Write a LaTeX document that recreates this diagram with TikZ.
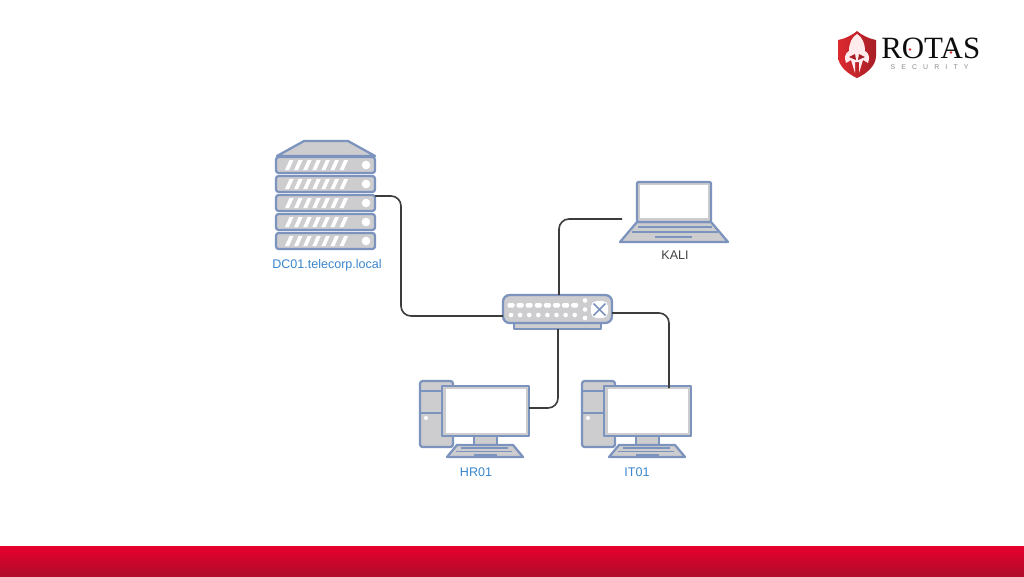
\documentclass[tikz,border=0pt]{standalone}
\usepackage{fontspec}
\setmainfont{Liberation Sans}
\newfontfamily\logofont{Liberation Serif}
\definecolor{devblue}{HTML}{7C93BE}
\definecolor{devgray}{HTML}{CDCDCF}
\definecolor{labelblue}{HTML}{3A86CC}
\definecolor{wire}{HTML}{3C3C3C}
\definecolor{barhi}{HTML}{E8002D}
\definecolor{barlo}{HTML}{B00C2C}
\definecolor{logored}{HTML}{DC2A30}
\definecolor{logodark}{HTML}{A81E26}
\tikzset{
  dev/.style={draw=devblue,fill=devgray,line width=1.7pt,line join=round},
  devline/.style={draw=devblue,line width=1.7pt},
  whitepart/.style={fill=white,draw=none},
  wirepath/.style={draw=wire,line width=1.2pt,rounded corners=7.5pt},
  devlabel/.style={text=labelblue,font=\fontsize{9.4pt}{11pt}\selectfont,inner sep=0pt},
  darklabel/.style={text=black!75,font=\fontsize{9.4pt}{11pt}\selectfont,inner sep=0pt},
}
\newcommand{\rackunit}[1]{%
  \draw[dev,rounded corners=2pt] (276,#1) rectangle (375,#1+16);
  \foreach \k in {0,...,6}{
    \fill[white] (285+\k*9.1,#1+13) -- (289+\k*9.1,#1+13) -- (293.5+\k*9.1,#1+3) -- (289.5+\k*9.1,#1+3) -- cycle;
  }
  \fill[white] (366,#1+8) circle (4.3);
}
\newcommand{\pcunit}[1]{%
  \begin{scope}[xshift=#1*0.75pt]
    \draw[dev,rounded corners=2pt] (420,381) rectangle (453,447);
    \draw[devline] (420,391) -- (442,391);
    \draw[devline] (420,413) -- (442,413);
    \fill[white] (426,418) circle (2);
    \draw[dev] (474,436) rectangle (497,445);
    \draw[dev] (457,445) -- (513,445) -- (523,457) -- (447,457) -- cycle;
    \draw[devline,line width=1.2pt] (461,448) -- (508,448);
    \draw[devline,line width=1.2pt] (456,451.5) -- (512,451.5);
    \draw[devline,line width=1.2pt] (474,455) -- (497,455);
    \draw[dev] (442,386) rectangle (529,436);
    \fill[white] (445.5,389) rectangle (526,433);
  \end{scope}
}
\begin{document}
\begin{tikzpicture}[x=0.75pt,y=-0.75pt]
\useasboundingbox (0,0) rectangle (1024,576);
\fill[white] (0,0) rectangle (1024,576);
% footer bar
\shade[top color=barhi,bottom color=barlo,draw=none] (0,546) rectangle (1024,576);

% server
\draw[dev] (277,156) -- (304,141) -- (348,141) -- (375,156) -- cycle;
\rackunit{157}\rackunit{176}\rackunit{195}\rackunit{214}\rackunit{233}
\node[devlabel] (dclabel) at (327,265.5) {DC01.telecorp.local};
\coordinate (dcport) at (375,196);
\coordinate (dcbend) at (401,196);

% laptop
\draw[dev] (637,222) -- (711,222) -- (728,242) -- (620,242) -- cycle;
\draw[devline,line width=1.4pt] (638,227) -- (712,227);
\draw[devline,line width=1.4pt] (632,232) -- (718,232);
\draw[devline,line width=1.4pt] (655,237) -- (692,237);
\draw[dev,rounded corners=1pt] (637,182) rectangle (711,222);
\fill[white] (640,185) rectangle (708,218);
\node[darklabel] (kalilabel) at (675,255) {KALI};
\coordinate (kaliport) at (622,219);
\coordinate (kalibend) at (559,219);

% switch
\draw[dev] (514,323) rectangle (601,329);
\draw[dev,rounded corners=5pt] (503,295) rectangle (612,323);
\foreach \k in {0,...,7}{
  \fill[white,rounded corners=1pt] (507.5+\k*9.1,303) rectangle (514.5+\k*9.1,307.5);
  \fill[white] (511+\k*9.1,315) circle (2.3);
}
\foreach \y in {300.5,309.5,318}{\fill[white] (585,\y) circle (2.3);}
\fill[white,rounded corners=4pt] (591,301) rectangle (608,318);
\draw[devline,line width=1.2pt] (593.5,303.5) -- (605.5,315.5) (605.5,303.5) -- (593.5,315.5);
\node[inner sep=0pt,minimum width=109*0.75pt,minimum height=28*0.75pt] (switch) at (557.5,309) {};
\coordinate (swleft) at (503,316);
\coordinate (swtop) at (559,295);
\coordinate (swbottom) at (558,329);
\coordinate (swright) at (612,313);

% computers
\pcunit{0}
\pcunit{162}
\node[devlabel] (hrlabel) at (476,472.5) {HR01};
\node[devlabel] (itlabel) at (637,472.5) {IT01};
\coordinate (hrport) at (529,408);
\coordinate (hrbend) at (558,408);
\coordinate (itport) at (669,388);
\coordinate (itbend) at (669,313);

% connectors
\draw[wirepath] (dcport) -- (dcbend) -- (dcbend |- swleft) -- (swleft);
\draw[wirepath] (swtop) -- (kalibend) -- (kaliport);
\draw[wirepath] (swbottom) -- (hrbend) -- (hrport);
\draw[wirepath] (swright) -- (itbend) -- (itport);

% logo
\shade[left color=logored,right color=logodark,draw=none] (857,31) .. controls (851,36) and (844,39) .. (838,40) -- (838,56) .. controls (838,66) and (848,74) .. (857,78) .. controls (866,74) and (876,66) .. (876,56) -- (876,40) .. controls (870,39) and (863,36) .. (857,31) -- cycle;
\fill[white!92!red] (857,34) .. controls (852,37) and (849,43) .. (849,51) .. controls (845,53) and (844,58) .. (846,63) -- (851,60) -- (855,73) -- (855,62) -- (859,62) -- (859,73) -- (863,60) -- (868,63) .. controls (870,58) and (869,53) .. (865,51) .. controls (865,43) and (862,37) .. (857,34) -- cycle;
\fill[logodark] (849,57) -- (855,54) -- (856,60) -- cycle (865,57) -- (859,54) -- (858,60) -- cycle;
\node[inner sep=0pt,anchor=base west,text=black!95,font=\logofont\fontsize{23.2pt}{26pt}\selectfont] (rotas) at (881,58.5) {ROTAS};
\fill[logored] (910,49.5) circle (1.3);
\fill[logored] (951,52.5) circle (1.3);
\node[inner sep=0pt,text=black!45,font=\fontsize{5.2pt}{6pt}\selectfont] (security) at (929.5,67.5) {S\hspace{4.6pt}E\hspace{4.6pt}C\hspace{4.6pt}U\hspace{4.6pt}R\hspace{4.6pt}I\hspace{4.6pt}T\hspace{4.6pt}Y};
\end{tikzpicture}
\end{document}
